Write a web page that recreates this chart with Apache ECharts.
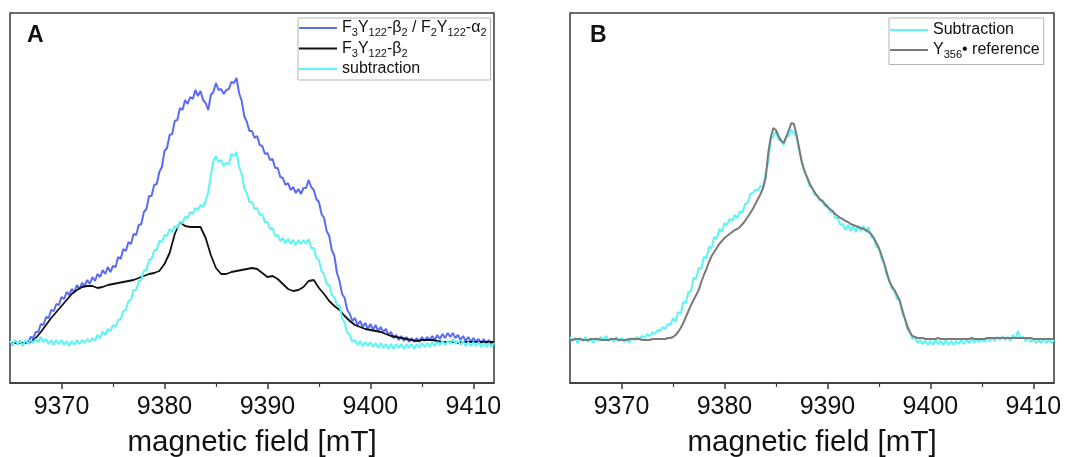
<!DOCTYPE html>
<html><head><meta charset="utf-8">
<script src="https://cdn.jsdelivr.net/npm/echarts@6/dist/echarts.min.js"></script>
<style>html,body{margin:0;padding:0;background:#fff}#c{width:1067px;height:457px}</style>
</head><body><div id="c"></div>
<script>
// ---- axis / tick data ----
const FIELD_MIN = 9365, FIELD_MAX = 9412;
const TICK_LABELS = [9370, 9380, 9390, 9400, 9410];
const MINOR_TICKS = [9375, 9385, 9395, 9405];
const X_TITLE = 'magnetic field [mT]';
const STEP_FINE = 0.25, STEP_COARSE = 0.5;

// ---- series names ----
const NAME_A1 = 'F3Y122-β2 / F2Y122-α2';
const NAME_A2 = 'F3Y122-β2';
const NAME_A3 = 'subtraction';
const NAME_B1 = 'Subtraction';
const NAME_B2 = 'Y356• reference';

// ---- panel A (a.u.), 0.25 mT sampling from 9365 ----
const blueA = [
  0,-3,1,-2,  1,-3,1,-1,  5,4,10,10,  18,17,25,24,  32,31,38,37,   // 9365-9369
  45,43,50,47,  53,50,57,53,  59,56,62,58,  65,61,68,65,  72,68,75,70, // 9370-9374
  76,75,85,83,  93,91,100,98,  108,107,117,118,  130,133,146,146,  157,158,170,175, // 9375-9379
  191,194,207,208,  221,222,234,232,  242,238,245,243,  252,246,251,242,  239,232,247,250, // 9380-9384
  259,252,253,248,  252,253,260,259,  264,249,241,226,  220,211,211,204,  206,197,196,188, // 9385-9389
  189,182,183,174,  174,165,164,157,  159,152,155,149,  153,148,154,154,  162,155,152,143, // 9390-9394
  140,128,124,111,  106,92,86,69,  61,48,44,32,  28,21,24,17,  21,15,19,13, // 9395-9399
  18,12,17,11,  15,10,13,7,  10,4,7,2,  6,1,5,0,  4,0,4,0, // 9400-9404
  5,1,5,2,  6,2,7,3,  8,4,9,5,  9,4,7,2,  6,1,5,0, // 9405-9409
  4,0,3,-1,  3,-1,2,-2,  1 // 9410-9412
];
const cyanA = [
  1,-3,2,-2,  1,-4,2,-2,  2,-1,3,0,  5,0,3,-2,  2,-3,2,-2,
  2,-3,1,-4,  1,-3,2,-2,  2,-1,3,0,  4,1,7,4,  10,7,13,11,
  17,15,22,23,  31,32,41,42,  52,52,61,62,  71,72,82,83,  92,92,101,100,
  107,106,113,110,  116,114,120,119,  125,124,130,128,  134,132,137,135,  141,150,166,181,
  186,180,182,176,  179,178,188,186,  190,175,168,154,  149,140,140,133,  134,127,128,120,
  120,113,114,106,  107,101,104,99,  103,98,102,97,  102,98,102,98,  103,94,94,84,
  82,71,68,58,  57,47,45,37,  36,24,19,9,  7,0,2,-3,  1,-4,0,-4,
  0,-5,-1,-6,  -1,-6,-2,-7,  -2,-7,-2,-6,  -2,-7,-2,-6,  -2,-7,-2,-6,
  -1,-5,-1,-5,  0,-4,0,-3,  1,-3,1,-2,  3,-2,1,-3,  1,-4,0,-4,
  0,-4,0,-5,  -1,-5,-1,-5,  -1
];
// 0.5 mT sampling from 9365
const blackA = [
  -1,-1, -1,-1, 0,4, 10,17, 24,30,
  36,42, 48,52, 55,56, 56,54, 55,57,
  58,59, 60,61, 62,64, 66,68, 69,71,
  78,89, 108,120, 116,115, 115,115, 104,87,
  74,68, 68,70, 71,72, 73,74, 73,69,
  65,66, 63,58, 53,51, 52,55, 61,62,
  54,48, 41,36, 32,26, 21,17, 15,13,
  12,11, 10,8, 6,5, 4,3, 2,1,
  2,2, 2,1, 0,0, 0,-1, 0,0,
  0,0, 0,0, 0
];

// ---- panel B, 0.25 mT sampling from 9365 ----
const cyanB = [
  3,-1,2,-3,  2,-1,3,-2,  1,-3,2,-1,  3,0,4,-1,  2,-2,3,-1,
  2,-2,1,-3,  2,0,3,1,  4,2,6,4,  8,6,10,9,  13,11,16,15,
  22,18,28,26,  38,37,48,49,  62,61,72,71,  83,82,93,92,  103,101,111,108,
  117,115,121,119,  125,122,129,127,  136,137,146,147,  150,150,154,153,  167,178,201,204,
  209,200,201,195,  204,204,210,207,  204,189,180,168,  164,154,153,145,  145,139,140,134,
  135,128,129,122,  122,115,116,110,  115,109,114,108,  114,109,114,108,  113,103,102,93,
  92,81,77,65,  60,51,50,41,  40,27,22,11,  8,1,3,-3,  0,-4,-1,-5,
  -1,-5,0,-4,  -1,-5,0,-5,  -1,-5,-1,-4,  0,-4,0,-3,  1,-3,1,-2,
  1,-2,2,-1,  2,-1,3,0,  4,0,3,-1,  5,1,9,2,  3,-1,2,-2,
  1,-3,0,-3,  1,-3,0,-3,  0
];
const grayB = [
  0,0,1,1,  1,0,0,0,  1,1,1,1,  0,0,0,0,  1,1,1,0,
  0,0,0,1,  1,1,1,1,  0,0,0,0,  1,1,1,1,  1,1,2,2,
  3,5,8,12,  17,23,29,35,  40,45,50,58,  65,71,78,84,  88,92,96,99,
  102,104,106,108,  110,111,113,116,  119,123,127,131,  136,141,146,152,  162,187,203,212,
  210,204,199,197,  203,210,217,216,  205,192,178,170,  163,157,152,148,  144,141,139,136,
  133,131,129,126,  124,122,121,119,  118,116,115,114,  113,112,111,110,  108,106,102,97,
  92,85,77,68,  59,54,50,45,  40,31,22,14,  8,4,3,2,  2,2,1,1,
  1,1,1,2,  1,1,1,1,  1,1,1,1,  1,1,1,1,  2,1,1,1,
  1,1,2,2,  2,2,2,2,  2,2,2,2,  2,2,2,2,  2,2,2,2,
  1,1,1,1,  1,1,1,1,  1
];

// ---- build ----
const FONT = '"Liberation Sans", Arial, Helvetica, sans-serif';
const sampling = (n, step) => Array.from({length: n}, (_, i) => FIELD_MIN + i * step);
const fieldFine = sampling(blueA.length, STEP_FINE);
const fieldCoarse = sampling(blackA.length, STEP_COARSE);
const pts = (xs, ys) => ys.map((y, i) => [xs[i], y]);

const rich = {
  n: {fontSize: 16, lineHeight: 21, verticalAlign: 'middle', fontFamily: FONT, color: '#111'},
  s: {fontSize: 11, lineHeight: 11, verticalAlign: 'bottom', fontFamily: FONT, color: '#111'}
};
const legendRich = {
  [NAME_A1]: '{n|F}{s|3}{n|Y}{s|122}{n|-β}{s|2}{n| / F}{s|2}{n|Y}{s|122}{n|-α}{s|2}',
  [NAME_A2]: '{n|F}{s|3}{n|Y}{s|122}{n|-β}{s|2}',
  [NAME_A3]: '{n|subtraction}',
  [NAME_B1]: '{n|Subtraction}',
  [NAME_B2]: '{n|Y}{s|356}{n|• reference}'
};

const FRAME = '#3a3a3a';
function mainX(g) {
  return {
    type: 'value', gridIndex: g, min: FIELD_MIN, max: FIELD_MAX, position: 'bottom',
    axisLine: {show: true, onZero: false, lineStyle: {color: FRAME, width: 1.5}},
    axisTick: {show: true, inside: false, length: 6, customValues: TICK_LABELS, lineStyle: {color: FRAME, width: 1.5}},
    axisLabel: {show: true, customValues: TICK_LABELS, formatter: v => String(v), fontSize: 25, color: '#111', margin: 12, fontFamily: FONT},
    splitLine: {show: false},
    name: X_TITLE, nameLocation: 'middle', nameGap: 45,
    nameTextStyle: {fontSize: 29.5, color: '#111', fontFamily: FONT}
  };
}
function minorX(g) {
  return {
    type: 'value', gridIndex: g, min: FIELD_MIN, max: FIELD_MAX, position: 'bottom', offset: 0,
    axisLine: {show: false, onZero: false},
    axisTick: {show: true, inside: false, length: 4, customValues: MINOR_TICKS, lineStyle: {color: FRAME, width: 1.2}},
    axisLabel: {show: false, customValues: MINOR_TICKS},
    splitLine: {show: false}
  };
}
function legend(left, names, gap, padTop, padBottom) {
  return {
    left: left, top: 18, orient: 'vertical', itemWidth: 38, itemHeight: 2, itemGap: gap,
    icon: 'rect',
    padding: [padTop, 4, padBottom, 1], borderColor: '#b5b5b5', borderWidth: 1, backgroundColor: '#fff',
    selectedMode: false, data: names,
    formatter: name => legendRich[name],
    textStyle: {rich: rich, fontFamily: FONT, fontSize: 16}
  };
}
function line(name, data, color, width, xi, yi, z) {
  return {
    type: 'line', name: name, data: data, xAxisIndex: xi, yAxisIndex: yi,
    symbol: 'none', color: color, lineStyle: {color: color, width: width}, z: z,
    animation: false
  };
}
function gridAt(left) {
  return {left: left, top: 13, width: 484, height: 370, show: true, borderColor: FRAME, borderWidth: 1.5,
          backgroundColor: 'transparent', containLabel: false, outerBoundsMode: 'none'};
}

const option = {
  animation: false,
  backgroundColor: '#fff',
  textStyle: {fontFamily: FONT},
  title: [
    {text: 'A', left: 27, top: 24, padding: 0, textStyle: {fontSize: 23, fontWeight: 'bold', color: '#111', fontFamily: FONT}},
    {text: 'B', left: 590, top: 24, padding: 0, textStyle: {fontSize: 23, fontWeight: 'bold', color: '#111', fontFamily: FONT}}
  ],
  grid: [gridAt(10), gridAt(570)],
  xAxis: [mainX(0), minorX(0), mainX(1), minorX(1)],
  yAxis: [
    {type: 'value', gridIndex: 0, min: -41, max: 329, show: false, splitLine: {show: false}},
    {type: 'value', gridIndex: 1, min: -43, max: 327, show: false, splitLine: {show: false}}
  ],
  legend: [legend(298, [NAME_A1, NAME_A2, NAME_A3], 2, 2, 3), legend(889, [NAME_B1, NAME_B2], 4, 4, 4)],
  series: [
    line(NAME_A1, pts(fieldFine, blueA), '#5B6CF2', 2, 0, 0, 2),
    line(NAME_A2, pts(fieldCoarse, blackA), '#111111', 1.8, 0, 0, 3),
    line(NAME_A3, pts(fieldFine, cyanA), '#5CF4F4', 2, 0, 0, 4),
    line(NAME_B1, pts(fieldFine, cyanB), '#5CF4F4', 2, 2, 1, 2),
    line(NAME_B2, pts(fieldFine, grayB), '#7a7a7a', 2, 2, 1, 3)
  ]
};
const chart = echarts.init(document.getElementById('c'), null, {renderer: 'canvas'});
chart.setOption(option);
</script></body></html>
